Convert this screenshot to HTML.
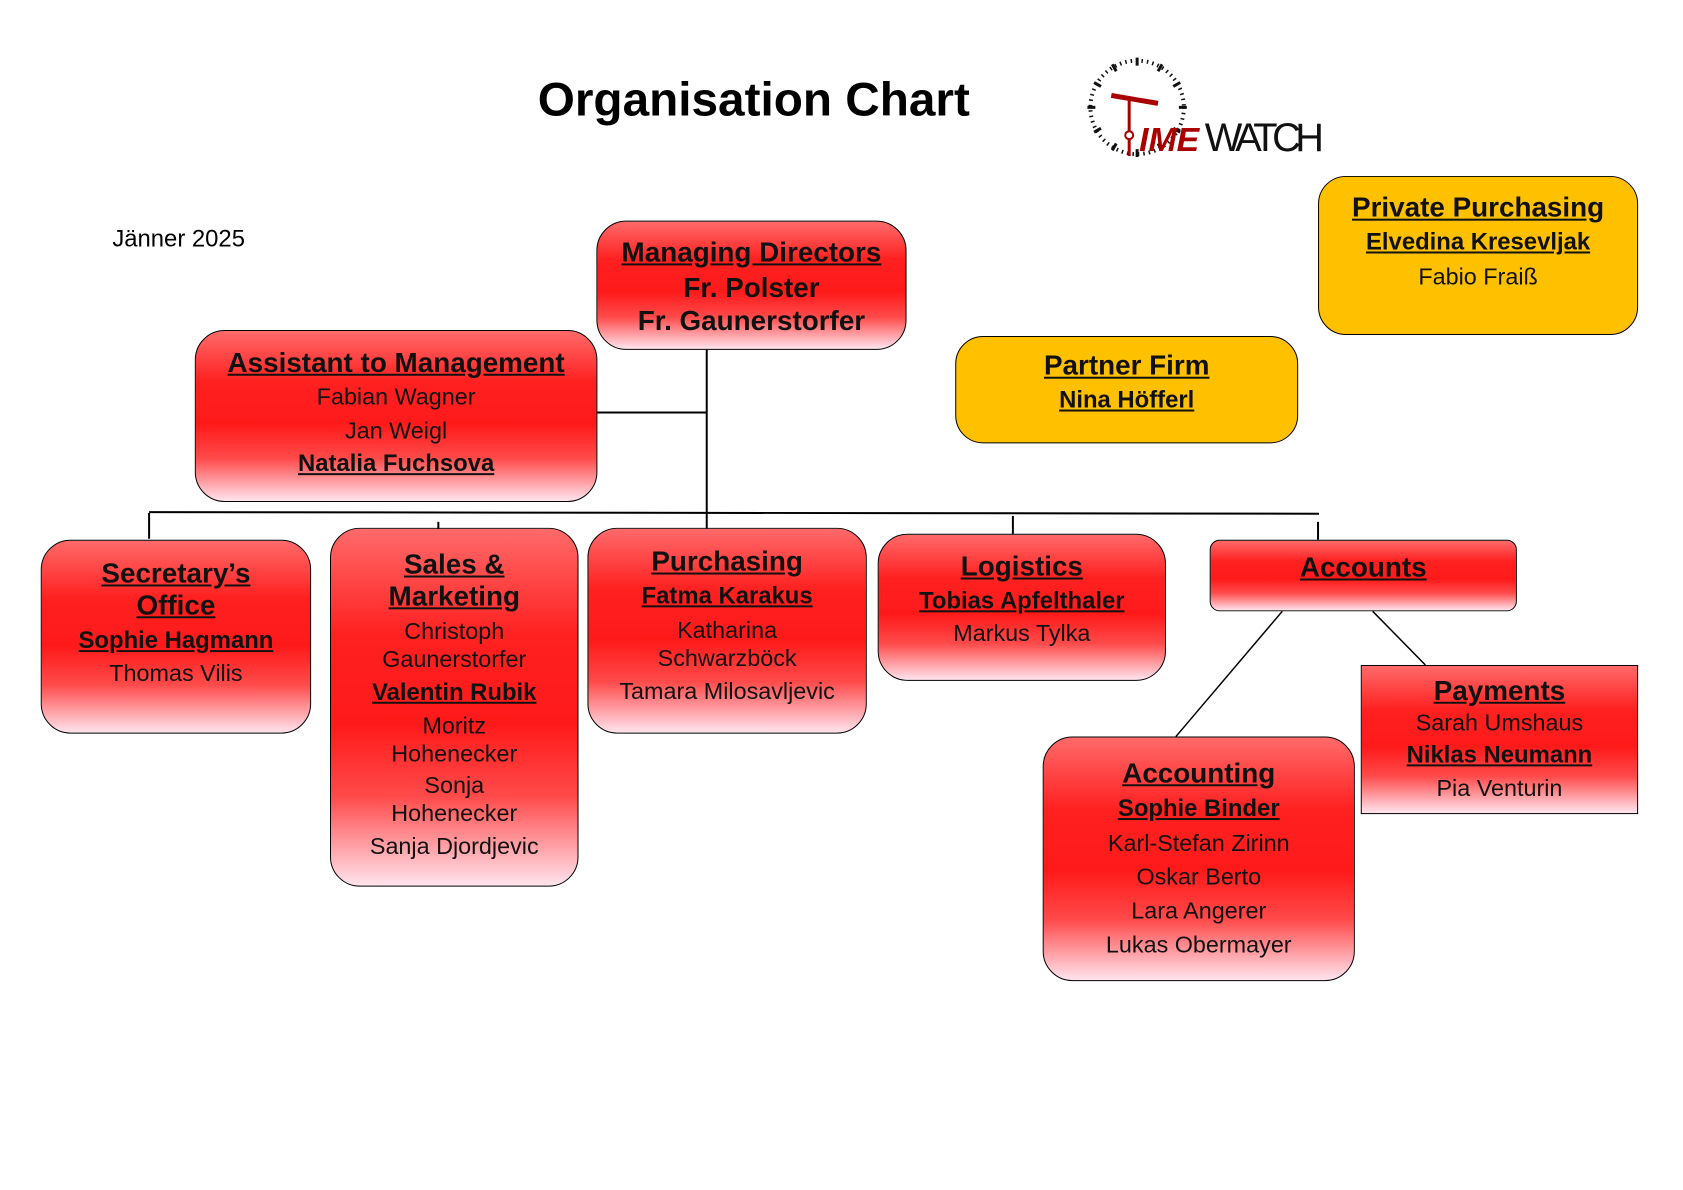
<!DOCTYPE html>
<html><head><meta charset="utf-8"><style>
body{margin:0;width:1683px;height:1190px;background:#fff;position:relative;font-family:"Liberation Sans",sans-serif;overflow:hidden}
#w{position:absolute;left:0;top:0;width:1683px;height:1190px;transform:scale(0.994);transform-origin:0 0}
.b{position:absolute;box-sizing:border-box;border:1.5px solid #000;border-radius:30px;text-align:center;color:#111;
background:linear-gradient(to bottom,#ff6a6a 0%,#ff2020 30%,#ff1a1a 55%,#ff4a4a 75%,#ffe4ee 100%)}
.y{background:#ffc000;border-radius:28px}
.t{font-weight:bold;text-decoration:underline;font-size:28px;line-height:32px}
.n{font-weight:bold;text-decoration:underline;font-size:24px;line-height:33px}
.r{font-size:23.5px;line-height:33px}
.w{font-size:23.5px;line-height:28px;margin:3px 0}
.l{position:absolute;background:#000}
</style></head><body><div id="w">
<div style="position:absolute;left:541px;top:73px;font-size:48px;font-weight:bold;">Organisation Chart</div>
<div style="position:absolute;left:113px;top:227px;font-size:24px">Jänner 2025</div>
<svg style="position:absolute;left:1090px;top:52px" width="250" height="115">
<g transform="translate(54,56)" stroke="#111" stroke-width="2">
<g id="tk"><line x1="0" y1="-50" x2="0" y2="-42" stroke-width="3"/></g>
<use href="#tk" transform="rotate(30)"/><use href="#tk" transform="rotate(60)"/><use href="#tk" transform="rotate(90)"/><use href="#tk" transform="rotate(120)"/><use href="#tk" transform="rotate(150)"/><use href="#tk" transform="rotate(180)"/><use href="#tk" transform="rotate(210)"/><use href="#tk" transform="rotate(240)"/><use href="#tk" transform="rotate(270)"/><use href="#tk" transform="rotate(300)"/><use href="#tk" transform="rotate(330)"/>
<circle r="47" fill="none" stroke-dasharray="1.5 4" stroke-width="4"/>
</g>
<line x1="28" y1="44" x2="75" y2="52" stroke="#a00" stroke-width="5"/>
<line x1="46" y1="48" x2="46" y2="105" stroke="#a00" stroke-width="3"/>
<circle cx="46" cy="84" r="4" fill="#fff" stroke="#a00" stroke-width="2"/>
<text x="56" y="100" font-family="Liberation Sans" font-weight="bold" font-style="italic" font-size="34" fill="#a00">IME</text>
<text x="122" y="100" font-family="Liberation Sans Narrow,Liberation Sans" font-size="40" fill="#111" textLength="120">WATCH</text>
</svg>

<div class="l" style="left:710px;top:352px;width:1.5px;height:180px"></div>
<div class="l" style="left:601px;top:414px;width:110px;height:1.5px"></div>
<div class="l" style="left:150px;top:515px;width:1177px;height:2px;transform:rotate(0.08deg)"></div>
<div class="l" style="left:149px;top:516px;width:1.5px;height:26px"></div>
<div class="l" style="left:440px;top:525px;width:1.5px;height:18px"></div>
<div class="l" style="left:1018px;top:519px;width:1.5px;height:18px"></div>
<div class="l" style="left:1325px;top:525px;width:1.5px;height:18px"></div>
<svg style="position:absolute;left:0;top:0" width="1683" height="1190">
<line x1="1290" y1="615" x2="1183" y2="741" stroke="#000" stroke-width="1.5"/>
<line x1="1381" y1="615" x2="1434" y2="669" stroke="#000" stroke-width="1.5"/>
</svg>

<div class="b" style="left:600px;top:222px;width:312px;height:130px;padding-top:14px">
<div class="t" style="line-height:34px">Managing Directors</div>
<div style="font-weight:bold;font-size:28px;line-height:33px;margin-top:2px">Fr. Polster<br>Fr. Gaunerstorfer</div></div>

<div class="b" style="left:196px;top:332px;width:405px;height:173px;padding-top:15px">
<div class="t" style="line-height:34px">Assistant to Management</div>
<div class="r" style="line-height:34px">Fabian Wagner<br>Jan Weigl</div>
<div class="n" style="line-height:34px">Natalia Fuchsova</div></div>

<div class="b y" style="left:961px;top:338px;width:345px;height:108px;padding-top:12px">
<div class="t" style="line-height:34px">Partner Firm</div>
<div class="n" style="line-height:36px">Nina Höfferl</div></div>

<div class="b y" style="left:1326px;top:177px;width:322px;height:160px;padding-top:14px">
<div class="t" style="line-height:34px">Private Purchasing</div>
<div class="n" style="line-height:36px">Elvedina Kresevljak</div>
<div class="r" style="line-height:32px">Fabio Fraiß</div></div>

<div class="b" style="left:41px;top:543px;width:272px;height:195px;padding-top:17px">
<div class="t">Secretary’s<br>Office</div>
<div class="n" style="margin-top:3px">Sophie Hagmann</div>
<div class="r">Thomas Vilis</div></div>

<div class="b" style="left:332px;top:531px;width:250px;height:361px;padding-top:20px">
<div class="t">Sales &amp;<br>Marketing</div>
<div class="w" style="margin-top:5px">Christoph<br>Gaunerstorfer</div>
<div class="n">Valentin Rubik</div>
<div class="w">Moritz<br>Hohenecker</div>
<div class="w" style="margin-top:4px">Sonja<br>Hohenecker</div>
<div class="r" style="margin-top:2px">Sanja Djordjevic</div></div>

<div class="b" style="left:591px;top:531px;width:281px;height:207px;padding-top:17px">
<div class="t">Purchasing</div>
<div class="n" style="margin-top:2px">Fatma Karakus</div>
<div class="w" style="margin-top:4px">Katharina<br>Schwarzböck</div>
<div class="r">Tamara Milosavljevic</div></div>

<div class="b" style="left:883px;top:537px;width:290px;height:148px;padding-top:16px">
<div class="t">Logistics</div>
<div class="n" style="margin-top:2px">Tobias Apfelthaler</div>
<div class="r">Markus Tylka</div></div>

<div class="b" style="left:1217px;top:543px;width:309px;height:72px;border-radius:10px;padding-top:11px">
<div class="t">Accounts</div></div>

<div class="b" style="left:1369px;top:669px;width:279px;height:150px;border-radius:0;padding-top:9px">
<div class="t">Payments</div>
<div class="r" style="line-height:32px">Sarah Umshaus</div>
<div class="n" style="line-height:34px">Niklas Neumann</div>
<div class="r" style="line-height:33px">Pia Venturin</div></div>

<div class="b" style="left:1049px;top:741px;width:314px;height:246px;padding-top:20px">
<div class="t">Accounting</div>
<div class="n" style="margin-top:3px;line-height:34px">Sophie Binder</div>
<div class="r" style="line-height:34px">Karl-Stefan Zirinn<br>Oskar Berto<br>Lara Angerer<br>Lukas Obermayer</div></div>
</div></body></html>
